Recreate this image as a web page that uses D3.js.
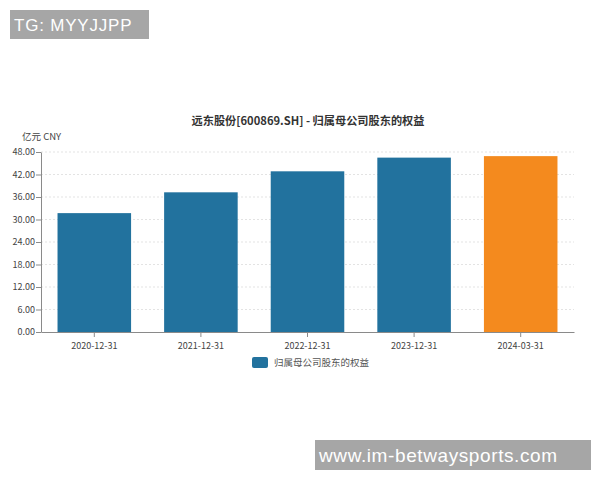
<!doctype html>
<html lang='zh'>
<head>
<meta charset='UTF-8'>
<title>远东股份 归属母公司股东的权益</title>
<script src='https://cdn.jsdelivr.net/npm/d3@7/dist/d3.min.js'></script>
<style>
  body { margin: 0; background: #fff; }
  text { font-family: 'Noto Sans CJK SC', 'DejaVu Sans', sans-serif; }
</style>
</head>
<body>
<div id='chart'></div>
<script>
    // 数据
    const periods = ['2020-12-31', '2021-12-31', '2022-12-31', '2023-12-31', '2024-03-31'];
    const equity = [31.7, 37.25, 42.85, 46.5, 46.9];
    const yTicks = [0, 6, 12, 18, 24, 30, 36, 42, 48];
    const seriesName = '归属母公司股东的权益';
    const titleText = '远东股份[600869.SH] - 归属母公司股东的权益';
    const unitText = '亿元  CNY';

    const W = 600, H = 480;
    const M = { left: 41, right: 26, top: 152, bottom: 148 };
    const BLUE = '#22729e', ORANGE = '#f48a1e';

    const svg = d3.select('#chart').append('svg').attr('width', W).attr('height', H);

    const x = d3.scaleBand().domain(periods)
        .range([M.left, W - M.right]).paddingInner(0.31).paddingOuter(0.155);
    const y = d3.scaleLinear().domain([0, 48]).range([H - M.bottom, M.top]);

    // 网格线
    svg.append('g').selectAll('line').data(yTicks.slice(1)).join('line')
        .attr('x1', M.left).attr('x2', W - M.right)
        .attr('y1', d => y(d)).attr('y2', d => y(d))
        .attr('stroke', '#e3e3e3').attr('stroke-dasharray', '2,2');

    // 柱子
    svg.append('g').selectAll('rect').data(equity).join('rect')
        .attr('x', (d, i) => x(periods[i]))
        .attr('y', d => y(d))
        .attr('width', x.bandwidth())
        .attr('height', d => y(0) - y(d))
        .attr('fill', (d, i) => i === periods.length - 1 ? ORANGE : BLUE);

    // 坐标轴
    const yAxis = svg.append('g').attr('transform', 'translate(' + M.left + ',0)')
        .call(d3.axisLeft(y).tickValues(yTicks).tickFormat(d3.format('.2f')).tickSize(5).tickSizeOuter(0));
    const xAxis = svg.append('g').attr('transform', 'translate(0,' + y(0) + ')')
        .call(d3.axisBottom(x).tickSize(5).tickSizeOuter(0));
    [xAxis, yAxis].forEach(a => {
        a.select('.domain').attr('stroke', '#8a8a8a');
        a.selectAll('.tick line').attr('stroke', '#8a8a8a');
        a.selectAll('text').attr('fill', '#444').style('font-size', '9px');
    });
    xAxis.selectAll('text').attr('dy', '1.05em');
    yAxis.selectAll('text').attr('dx', '2px');

    // 标题
    svg.append('text').attr('x', 308).attr('y', 125).attr('text-anchor', 'middle')
        .attr('fill', '#333').style('font-size', '11.2px').style('font-weight', 'bold')
        .text(titleText);
    svg.append('text').attr('x', 22).attr('y', 140).attr('fill', '#444')
        .style('font-size', '9.5px').text(unitText);

    // 图例
    const lg = svg.append('g').attr('transform', 'translate(252,357)');
    lg.append('rect').attr('width', 16).attr('height', 11).attr('rx', 2).attr('fill', BLUE);
    lg.append('text').attr('x', 22).attr('y', 9).attr('fill', '#555')
        .style('font-size', '9.5px').text(seriesName);

    // 水印
    function tag(x0, y0, w, h, size, txt, ls) {
        svg.append('rect').attr('x', x0).attr('y', y0).attr('width', w).attr('height', h).attr('fill', '#a6a6a6');
        svg.append('text').attr('x', x0 + 4).attr('y', y0 + h / 2).attr('dy', '0.36em')
            .attr('fill', '#fff').style('font-size', size + 'px').style('letter-spacing', ls + 'px')
            .style('font-family', 'Liberation Sans, sans-serif').text(txt);
    }
    tag(10, 10, 139, 29, 17, 'TG: MYYJJPP', 0.8);
    tag(315, 440, 276, 30, 19, 'www.im-betwaysports.com', 0.6);
</script>
</body>
</html>
